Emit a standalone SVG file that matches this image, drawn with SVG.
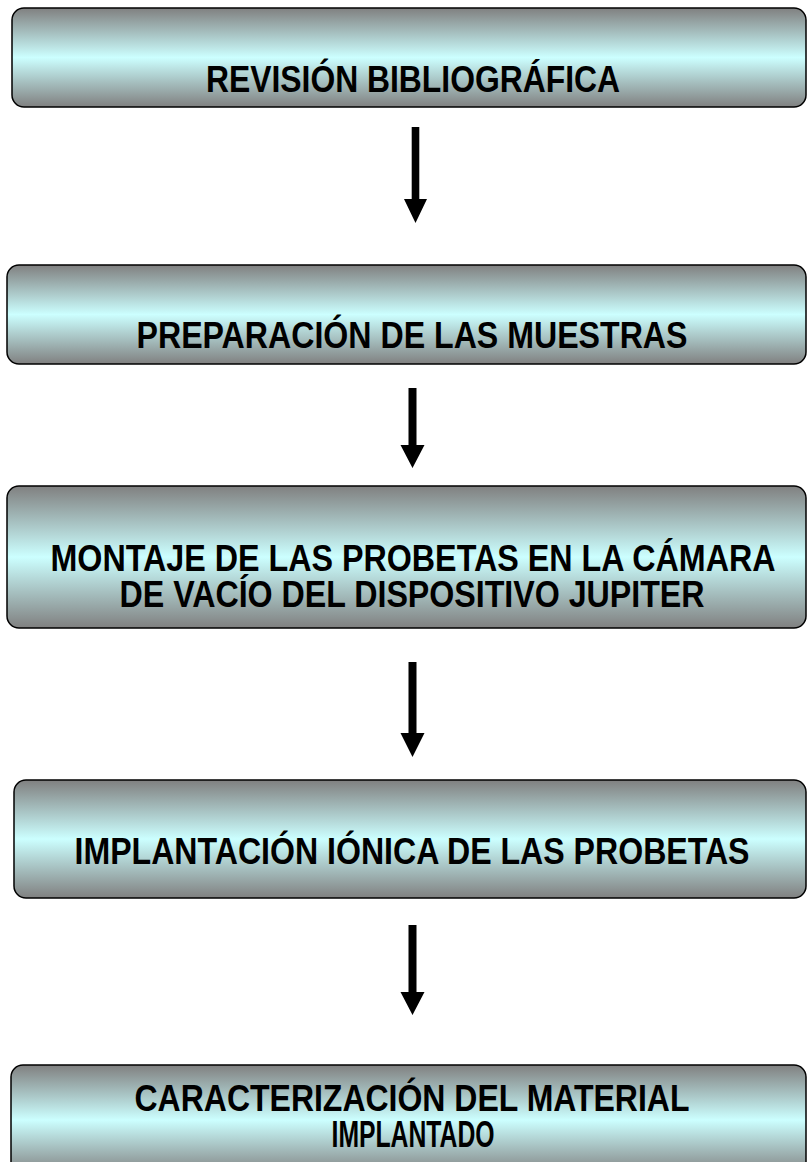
<svg xmlns="http://www.w3.org/2000/svg" width="807" height="1162" viewBox="0 0 807 1162">
<defs>
<linearGradient id="g" x1="0" y1="0" x2="0" y2="1">
<stop offset="0" stop-color="#808080"/>
<stop offset="0.5" stop-color="#ccffff"/>
<stop offset="1" stop-color="#808080"/>
</linearGradient>
</defs>
<style>
.box{fill:url(#g);stroke:#000;stroke-width:1.5}
.t{font-family:"Liberation Sans",Arial,sans-serif;font-weight:bold;font-size:32px;fill:#000;text-anchor:middle}
.arr{fill:#000}
</style>
<rect width="807" height="1162" fill="#fff"/>
<g id="n1"><rect class="box" x="12" y="8" width="794" height="99" rx="12"/>
<text class="t" transform="translate(413,92) scale(1,1.15)" textLength="414" lengthAdjust="spacingAndGlyphs">REVISIÓN BIBLIOGRÁFICA</text></g>
<g id="n2"><rect class="box" x="7" y="265" width="799" height="99" rx="12"/>
<text class="t" transform="translate(412,348) scale(1,1.15)" textLength="551" lengthAdjust="spacingAndGlyphs">PREPARACIÓN DE LAS MUESTRAS</text></g>
<g id="n3"><rect class="box" x="7" y="486" width="799" height="142" rx="12"/>
<text class="t" transform="translate(413,571) scale(1,1.15)" textLength="725" lengthAdjust="spacingAndGlyphs">MONTAJE DE LAS PROBETAS EN LA CÁMARA</text>
<text class="t" transform="translate(412,607) scale(1,1.15)" textLength="585" lengthAdjust="spacingAndGlyphs">DE VACÍO DEL DISPOSITIVO JUPITER</text></g>
<g id="n4"><rect class="box" x="14" y="780" width="792" height="118" rx="12"/>
<text class="t" transform="translate(412,864) scale(1,1.15)" textLength="675" lengthAdjust="spacingAndGlyphs">IMPLANTACIÓN IÓNICA DE LAS PROBETAS</text></g>
<g id="n5"><rect class="box" x="11" y="1065" width="795" height="110" rx="12"/>
<text class="t" transform="translate(412,1111) scale(1,1.15)" textLength="555" lengthAdjust="spacingAndGlyphs">CARACTERIZACIÓN DEL MATERIAL</text>
<text class="t" transform="translate(413,1147) scale(1,1.15)" textLength="163" lengthAdjust="spacingAndGlyphs">IMPLANTADO</text></g>
<g id="connectors">
<polygon class="arr" points="411.7,127 419.3,127 419.3,199 427,199 415.5,223 404,199 411.7,199"/>
<polygon class="arr" points="408.5,388 416.5,388 416.5,445 424.5,445 412.5,468 400.5,445 408.5,445"/>
<polygon class="arr" points="408.5,662 416.5,662 416.5,733 424.5,733 412.5,757 400.5,733 408.5,733"/>
<polygon class="arr" points="408.5,925 416.5,925 416.5,992 424.5,992 412.5,1015 400.5,992 408.5,992"/>
</g>
</svg>
